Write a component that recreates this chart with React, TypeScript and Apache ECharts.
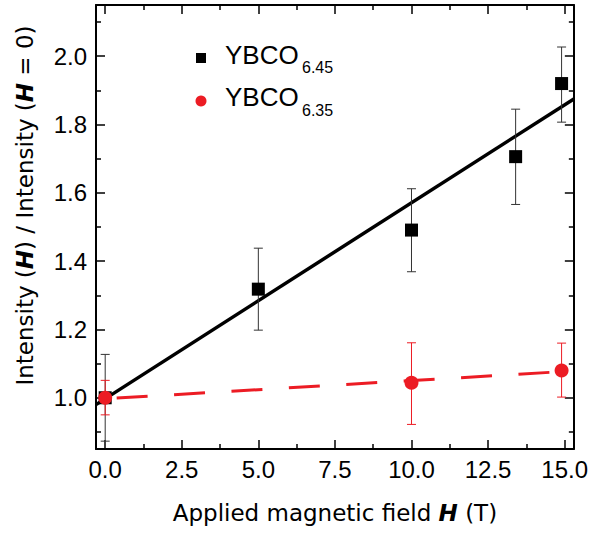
import React, { useEffect, useRef } from 'react';
import * as echarts from 'echarts';

const xMajorTicks = [0, 2.5, 5, 7.5, 10, 12.5, 15];
const xMinorTicks = [1.25, 3.75, 6.25, 8.75, 11.25, 13.75];
const yMajorTicks = [1.0, 1.2, 1.4, 1.6, 1.8, 2.0];
const yMinorTicks = [0.9, 1.1, 1.3, 1.5, 1.7, 1.9, 2.1];

const field645 = [0, 5, 10, 13.4, 14.9];
const ratio645 = [1.0, 1.318, 1.491, 1.706, 1.92];
const errLow645 = [0.873, 1.198, 1.369, 1.566, 1.807];
const errHigh645 = [1.127, 1.438, 1.612, 1.845, 2.027];

const field635 = [0, 10, 14.9];
const ratio635 = [1.0, 1.044, 1.08];
const errLow635 = [0.95, 0.922, 1.002];
const errHigh635 = [1.051, 1.161, 1.16];

const fitField645 = [-0.3, 15.3];
const fitRatio645 = [0.98, 1.875];
const fitField635 = [0, 15];
const fitRatio635 = [0.997, 1.077];

const RED = '#ec1c24';
const TICK_FONT = 'Liberation Sans, Arial, sans-serif';
const TITLE_FONT = 'DejaVu Sans, sans-serif';

const X_MIN = -0.3;
const X_MAX = 15.3;
const Y_MIN = 0.85;
const Y_MAX = 2.15;

function xAxisDef(position: 'bottom' | 'top', ticks: number[], len: number, showLine: boolean, showLabels: boolean, extra: any = {}) {
  return {
    type: 'value',
    min: X_MIN,
    max: X_MAX,
    position,
    axisLine: { show: showLine, onZero: false, lineStyle: { color: '#000', width: 2 } },
    splitLine: { show: false },
    axisTick: { show: true, inside: true, length: len, customValues: ticks, lineStyle: { color: '#000', width: 1.5 } },
    axisLabel: showLabels
      ? { show: true, customValues: ticks, formatter: (v: number) => v.toFixed(1), fontSize: 24, fontFamily: TICK_FONT, color: '#000', margin: 8 }
      : { show: false },
    ...extra,
  };
}

function yAxisDef(position: 'left' | 'right', ticks: number[], len: number, showLine: boolean, showLabels: boolean, extra: any = {}) {
  return {
    type: 'value',
    min: Y_MIN,
    max: Y_MAX,
    position,
    axisLine: { show: showLine, onZero: false, lineStyle: { color: '#000', width: 2 } },
    splitLine: { show: false },
    axisTick: { show: true, inside: true, length: len, customValues: ticks, lineStyle: { color: '#000', width: 1.5 } },
    axisLabel: showLabels
      ? { show: true, customValues: ticks, formatter: (v: number) => v.toFixed(1), fontSize: 24, fontFamily: TICK_FONT, color: '#000', margin: 9 }
      : { show: false },
    ...extra,
  };
}

function errorBarSeries(xs: number[], lo: number[], hi: number[], color: string, z: number) {
  return {
    type: 'custom',
    xAxisIndex: 0,
    yAxisIndex: 0,
    z,
    data: xs.map((x, i) => [x, lo[i], hi[i]]),
    encode: { x: 0, y: [1, 2] },
    renderItem: (params: any, api: any) => {
      const x = api.value(0);
      const p1 = api.coord([x, api.value(1)]);
      const p2 = api.coord([x, api.value(2)]);
      const half = 4.5;
      const style = { stroke: color, lineWidth: 1, fill: 'none' };
      return {
        type: 'group',
        children: [
          { type: 'line', shape: { x1: p1[0], y1: p1[1], x2: p2[0], y2: p2[1] }, style },
          { type: 'line', shape: { x1: p1[0] - half, y1: p1[1], x2: p1[0] + half, y2: p1[1] }, style },
          { type: 'line', shape: { x1: p2[0] - half, y1: p2[1], x2: p2[0] + half, y2: p2[1] }, style },
        ],
      };
    },
  };
}

export default function App() {
  const ref = useRef<HTMLDivElement>(null);

  useEffect(() => {
    if (!ref.current) return;
    const chart = echarts.init(ref.current, null, { renderer: 'svg' });
    const option: any = {
      animation: false,
      backgroundColor: '#fff',
      grid: { left: 96, right: 16, top: 5, bottom: 87, containLabel: false },
      xAxis: [
        xAxisDef('bottom', xMajorTicks, 9, true, true, {
          name: 'Applied magnetic field {h|H} (T)',
          nameLocation: 'middle',
          nameGap: 52,
          nameTextStyle: {
            fontSize: 23,
            fontFamily: TITLE_FONT,
            color: '#000',
            rich: { h: { fontSize: 23, fontFamily: TITLE_FONT, fontWeight: 'bold', fontStyle: 'italic', color: '#000' } },
          },
        }),
        xAxisDef('bottom', xMinorTicks, 5, false, false),
        xAxisDef('top', xMajorTicks, 9, true, false),
        xAxisDef('top', xMinorTicks, 5, false, false),
      ],
      yAxis: [
        yAxisDef('left', yMajorTicks, 9, true, true, {
          name: 'Intensity ({h|H}) / Intensity ({h|H} = 0)',
          nameLocation: 'middle',
          nameGap: 60,
          nameTextStyle: {
            fontSize: 23,
            fontFamily: TITLE_FONT,
            color: '#000',
            padding: [0, 0, 0, 43],
            rich: { h: { fontSize: 23, fontFamily: TITLE_FONT, fontWeight: 'bold', fontStyle: 'italic', color: '#000' } },
          },
        }),
        yAxisDef('left', yMinorTicks, 5, false, false),
        yAxisDef('right', yMajorTicks, 9, true, false),
        yAxisDef('right', yMinorTicks, 5, false, false),
      ],
      series: [
        {
          type: 'line',
          name: 'fit 6.45',
          xAxisIndex: 0,
          yAxisIndex: 0,
          z: 2,
          data: fitField645.map((x, i) => [x, fitRatio645[i]]),
          showSymbol: false,
          symbol: 'none',
          lineStyle: { color: '#000', width: 3.5 },
        },
        {
          type: 'line',
          name: 'fit 6.35',
          xAxisIndex: 0,
          yAxisIndex: 0,
          z: 2,
          data: fitField635.map((x, i) => [x, fitRatio635[i]]),
          showSymbol: false,
          symbol: 'none',
          lineStyle: { color: RED, width: 3, type: [31, 26.5], dashOffset: 45.6 },
        },
        errorBarSeries(field645, errLow645, errHigh645, '#333', 3),
        {
          type: 'scatter',
          name: 'YBCO6.45',
          xAxisIndex: 0,
          yAxisIndex: 0,
          z: 4,
          symbol: 'rect',
          symbolSize: 13,
          itemStyle: { color: '#000', opacity: 1 },
          data: field645.map((x, i) => [x, ratio645[i]]),
        },
        errorBarSeries(field635, errLow635, errHigh635, RED, 5),
        {
          type: 'scatter',
          name: 'YBCO6.35',
          xAxisIndex: 0,
          yAxisIndex: 0,
          z: 6,
          symbol: 'circle',
          symbolSize: 14,
          itemStyle: { color: RED, opacity: 1 },
          data: field635.map((x, i) => [x, ratio635[i]]),
        },
      ],
      graphic: [
        { type: 'rect', shape: { x: 196, y: 53, width: 10, height: 10 }, style: { fill: '#000' } },
        { type: 'circle', shape: { cx: 201, cy: 101, r: 5.5 }, style: { fill: RED } },
        { type: 'text', x: 225, y: 54.5, style: { text: 'YBCO', fontSize: 26, fontFamily: TICK_FONT, fill: '#000', verticalAlign: 'middle', align: 'left' } },
        { type: 'text', x: 302, y: 67.5, style: { text: '6.45', fontSize: 16, fontFamily: TICK_FONT, fill: '#000', verticalAlign: 'middle', align: 'left' } },
        { type: 'text', x: 225, y: 97, style: { text: 'YBCO', fontSize: 26, fontFamily: TICK_FONT, fill: '#000', verticalAlign: 'middle', align: 'left' } },
        { type: 'text', x: 302, y: 110, style: { text: '6.35', fontSize: 16, fontFamily: TICK_FONT, fill: '#000', verticalAlign: 'middle', align: 'left' } },
      ],
    };
    chart.setOption(option);
    return () => chart.dispose();
  }, []);

  return <div ref={ref} style={{ position: 'fixed', left: 0, top: 0, width: 591, height: 536 }} />;
}
